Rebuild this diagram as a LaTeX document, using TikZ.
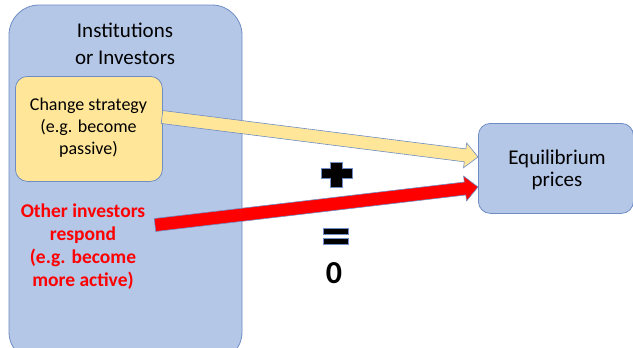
\documentclass[tikz,border=0pt]{standalone}
\usepackage{fontspec}
\setmainfont{Carlito}
\usetikzlibrary{calc}
\definecolor{boxblue}{HTML}{B4C7E7}
\definecolor{edgeblue}{HTML}{6F8DC4}
\definecolor{boxyellow}{HTML}{FFE699}
\definecolor{txtred}{HTML}{FF0000}
\tikzset{
  bigbox/.style={draw=edgeblue, fill=boxblue, line width=0.8pt, rounded corners=30pt},
  smallbox/.style={draw=edgeblue, fill=boxyellow, line width=0.8pt, rounded corners=12pt},
  eqbox/.style={draw=edgeblue, fill=boxblue, line width=0.8pt, rounded corners=12pt},
  arrowedge/.style={draw=edgeblue, line width=0.6pt, line join=miter},
  txt/.style={align=center, inner sep=0pt},
}
\newcommand\fatarrow[3]{%
  \coordinate (h#1) at ($(#2)!13pt!(#1)$);
  \fill[#3, arrowedge]
    ($(#1)!6.5pt!90:(#2)$) -- ($(h#1)!6.5pt!-90:(#1)$) -- ($(h#1)!12.5pt!-90:(#1)$)
    -- (#2) -- ($(h#1)!12.5pt!90:(#1)$) -- ($(h#1)!6.5pt!90:(#1)$)
    -- ($(#1)!6.5pt!-90:(#2)$) -- cycle;}
\begin{document}
\begin{tikzpicture}[x=1pt,y=-1pt]
\useasboundingbox (0,0) rectangle (633,348);
\fill[white] (0,0) rectangle (633,348);
% big institutions box
\path[bigbox] (9,5) rectangle (242,362);
\node[txt, font=\fontsize{21}{27}\selectfont] (inst) at (125,44) {Institutions\\or Investors};
% yellow box
\node[smallbox, minimum width=147pt, minimum height=105pt, anchor=north west, inner sep=0pt] (chg) at (15,76) {};
\node[txt, font=\fontsize{18}{22}\selectfont] (chgt) at (88.5,128) {Change strategy\\(e.g. become\\passive)};
% red text
\node[txt, text=txtred, font=\bfseries\fontsize{19.5}{23}\selectfont] (oth) at (83,247) {Other investors\\respond\\(e.g. become\\more active)};
% equilibrium box
\node[eqbox, minimum width=155pt, minimum height=90pt, anchor=north west, inner sep=0pt] (eq) at (478,123) {};
\node[txt, font=\fontsize{21}{22}\selectfont] (eqt) at (557,170) {Equilibrium\\prices};
% arrows
\coordinate (ys) at (162,117);
\coordinate (yt) at (478,157);
\coordinate (rs) at (155,225);
\coordinate (rt) at (478,187);
\fatarrow{ys}{yt}{boxyellow}
\fatarrow{rs}{rt}{txtred}
% plus
\fill[black, draw=edgeblue, line width=0.5pt]
  (330,162) -- (342,162) -- (342,168.5) -- (352,168.5) -- (352,178.5) -- (342,178.5)
  -- (342,187) -- (330,187) -- (330,178.5) -- (321,178.5) -- (321,168.5) -- (330,168.5) -- cycle;
% equals
\fill[black, draw=edgeblue, line width=0.5pt] (323,228) rectangle (348,234);
\fill[black, draw=edgeblue, line width=0.5pt] (323,238) rectangle (348,244);
\node[txt, font=\bfseries\fontsize{32}{32}\selectfont] (zero) at (334,273) {0};
\end{tikzpicture}
\end{document}
